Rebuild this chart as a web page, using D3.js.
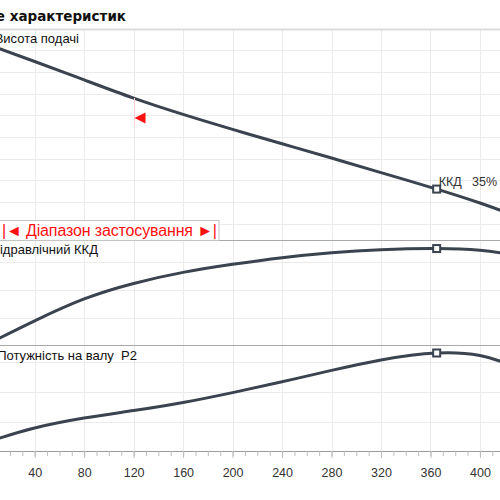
<!DOCTYPE html>
<html>
<head>
<meta charset="utf-8">
<script src="https://cdnjs.cloudflare.com/ajax/libs/d3/7.8.5/d3.min.js"></script>
<style>
  body { margin: 0; background: #fff; }
  svg { display: block; font-family: "Liberation Sans", Arial, sans-serif; }
</style>
</head>
<body>
<div id="chart"></div>
<script>
'use strict';

// flow values (x axis) shared by the three curves
var flow  = [10, 40, 80, 120, 160, 200, 240, 280, 320, 365, 400, 420];
// head, efficiency (%) and shaft power P2
var head  = [9.10, 8.48, 7.63, 6.79, 6.04, 5.35, 4.69, 4.03, 3.36, 2.60, 1.96, 1.55];
var eff   = [2.3, 8.9, 16.8, 22.4, 26.4, 29.3, 31.7, 33.5, 34.6, 35.0, 34.4, 33.2];
var power = [0.44, 0.80, 1.13, 1.38, 1.65, 1.98, 2.34, 2.72, 3.07, 3.30, 3.22, 2.97];

var majorTicks = [40, 80, 120, 160, 200, 240, 280, 320, 360, 400];
var minorTicks = d3.range(10, 421, 10);
var dutyFlow = 365;     // the marked duty point
var dutyLabel = 'ККД   35%';
var rangeMarkFlow = 120;

var width = 500, height = 500;

var x = d3.scaleLinear().domain([0, 420]).range([-14.8, 504.7]);

// one y scale per panel
var yHead = d3.scaleLinear().domain([0, 10]).range([245.5, 28.5]);
var yEff  = d3.scaleLinear().domain([0, 40]).range([345.5, 234.7]);
var yPow  = d3.scaleLinear().domain([0, 3.5]).range([452, 347]);

var svg = d3.select('#chart').append('svg')
  .attr('width', width)
  .attr('height', height);

// horizontal grid lines for each panel
var hGrid = [
  { scale: yHead, ticks: d3.range(1, 10) },
  { scale: yEff,  ticks: [10, 20, 30] },
  { scale: yPow,  ticks: [1, 2, 3] }
];
hGrid.forEach(function(g){
  svg.append('g').selectAll('line').data(g.ticks)
    .enter().append('line')
    .attr('x1', 0).attr('x2', width)
    .attr('y1', function(d){ return Math.round(g.scale(d)) + 0.5; })
    .attr('y2', function(d){ return Math.round(g.scale(d)) + 0.5; })
    .attr('stroke', '#ebebeb');
});

// vertical grid lines at the labelled ticks
svg.append('g').selectAll('line').data(majorTicks)
  .enter().append('line')
  .attr('x1', function(d){ return Math.round(x(d)) + 0.5; })
  .attr('x2', function(d){ return Math.round(x(d)) + 0.5; })
  .attr('y1', 30).attr('y2', 451)
  .attr('stroke', '#ebebeb');

// header rule and panel separators
svg.append('line').attr('x1', 0).attr('x2', width).attr('y1', 29.5).attr('y2', 29.5)
  .attr('stroke', '#dcdcdc').attr('stroke-width', 2);
[240.5, 345.5].forEach(function(yy){
  svg.append('line').attr('x1', 0).attr('x2', width).attr('y1', yy).attr('y2', yy)
    .attr('stroke', '#a8a8a8');
});

// range of application box
svg.append('rect')
  .attr('x', -1).attr('y', 220.5).attr('width', 220).attr('height', 20)
  .attr('fill', '#fff').attr('stroke', '#c4c4c4');
svg.append('text')
  .attr('x', 2).attr('y', 236)
  .attr('textLength', 215).attr('lengthAdjust', 'spacing')
  .attr('fill', '#ff1010').style('font-size', '16px')
  .text('|◄ Діапазон застосування ►|');

// x axis: minor ticks then labelled ticks
var axisY = 451;
svg.append('g').attr('transform', 'translate(0,' + axisY + ')')
  .call(d3.axisBottom(x).tickValues(minorTicks).tickSize(5).tickFormat(''))
  .call(function(g){
    g.selectAll('.tick line').attr('stroke', '#bdbdbd');
    g.select('.domain').attr('stroke', '#9a9a9a');
  });
svg.append('g').attr('transform', 'translate(0,' + axisY + ')')
  .call(d3.axisBottom(x).tickValues(majorTicks).tickSize(7).tickPadding(10))
  .call(function(g){
    g.select('.domain').remove();
    g.selectAll('.tick line').attr('stroke', '#bdbdbd');
    g.selectAll('.tick text').attr('fill', '#333')
      .style('font-size', '12.5px')
      .style('font-family', '"Liberation Sans", Arial, sans-serif');
  });

// curves
var curves = [
  { values: head,  scale: yHead },
  { values: eff,   scale: yEff },
  { values: power, scale: yPow }
];
curves.forEach(function(c){
  var line = d3.line()
    .x(function(d, i){ return x(flow[i]); })
    .y(function(d){ return c.scale(d); })
    .curve(d3.curveNatural);
  svg.append('path').datum(c.values)
    .attr('d', line)
    .attr('fill', 'none')
    .attr('stroke', '#3a434f')
    .attr('stroke-width', 3)
    .attr('stroke-linecap', 'round');
});

// duty point markers
var di = flow.indexOf(dutyFlow);
curves.forEach(function(c){
  svg.append('rect')
    .attr('x', x(dutyFlow) - 3.5).attr('y', c.scale(c.values[di]) - 3.5)
    .attr('width', 7).attr('height', 7)
    .attr('fill', '#fff').attr('stroke', '#3a434f').attr('stroke-width', 2);
});
svg.append('text')
  .attr('x', x(dutyFlow) + 2).attr('y', yHead(head[di]) - 3)
  .attr('fill', '#333').style('font-size', '12.5px')
  .style('white-space', 'pre').attr('xml:space', 'preserve')
  .text(dutyLabel);

// red range marker on the head curve
var rx = Math.round(x(rangeMarkFlow)) + 0.5;
svg.append('line').attr('x1', rx).attr('x2', rx).attr('y1', 98).attr('y2', 126)
  .attr('stroke', '#ffd0d0');
svg.append('path')
  .attr('d', 'M' + (rx) + ',118 L' + (rx + 11) + ',112.5 L' + (rx + 11) + ',123.5 Z')
  .attr('fill', '#ff1010');

// title and panel labels, cut off on the left like the source
svg.append('text')
  .attr('x', 126).attr('y', 21).attr('text-anchor', 'end')
  .style('font-family', '"DejaVu Sans", Verdana, sans-serif')
  .style('font-weight', 'bold').style('font-size', '13.5px')
  .attr('fill', '#111')
  .text('Поле характеристик');

var labels = [
  { text: 'Висота подачі', x: 79, y: 43 },
  { text: 'Гідравлічний ККД', x: 98, y: 254 },
  { text: 'Потужність на валу  P2', x: 137, y: 360 }
];
svg.selectAll('.plabel').data(labels)
  .enter().append('text')
  .attr('class', 'plabel')
  .attr('x', function(d){ return d.x; })
  .attr('y', function(d){ return d.y; })
  .attr('text-anchor', 'end')
  .attr('fill', '#111')
  .style('font-size', '13px')
  .style('white-space', 'pre')
  .text(function(d){ return d.text; });
</script>
</body>
</html>
